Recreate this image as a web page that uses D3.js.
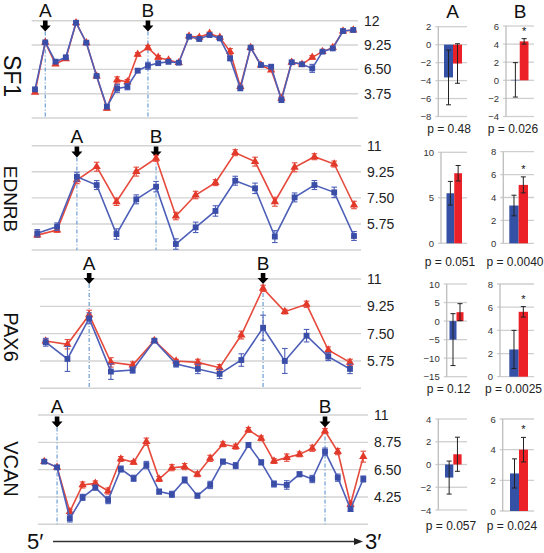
<!DOCTYPE html>
<html><head><meta charset="utf-8">
<script src="https://cdn.jsdelivr.net/npm/d3@7"></script>
<style>body{margin:0;background:#fff}svg text{font-family:"Liberation Sans",Arial,sans-serif}</style>
</head><body><svg id="c" width="544" height="553"></svg>
<script>
// ---------- DATA ----------
const sf1Blue=[4.24,9.55,7.37,7.86,11.77,9.51,5.75,2.28,4.35,4.54,6.35,6.9,7.2,7.35,7.25,10.19,9.93,10.38,10.0,7.74,4.35,8.95,6.99,6.8,3.03,7.3,7.07,6.61,8.5,8.87,10.83,10.95];
const sf1Red =[3.9,9.55,7.1,7.7,11.77,9.51,5.75,2.1,5.3,5.1,8.2,8.95,7.85,7.55,7.25,10.27,10.12,10.57,10.12,8.5,4.54,8.95,6.99,6.42,3.22,7.3,7.07,7.86,8.5,8.95,10.83,10.95];
const sf1BlueErr=[0.1,0.1,0.2,0.15,0.1,0.1,0.1,0.2,0.45,0.35,0.2,0.4,0.2,0.15,0.1,0.1,0.15,0.1,0.1,0.25,0.2,0.1,0.1,0.15,0.25,0.15,0.1,0.45,0.1,0.1,0.1,0.1];
const sf1RedErr =[0.1,0.1,0.15,0.15,0.1,0.1,0.1,0.2,0.35,0.25,0.2,0.25,0.2,0.15,0.1,0.1,0.15,0.15,0.1,0.35,0.2,0.1,0.1,0.15,0.2,0.1,0.1,0.2,0.1,0.1,0.1,0.1];
const sf1Ticks=[12,9.25,6.5,3.75];
const sf1Marks=[{label:"A",index:1},{label:"B",index:11}];

const ednrbBlue=[5.12,5.57,8.92,8.36,5.07,7.40,8.25,4.40,5.52,6.62,8.65,8.14,4.90,7.53,8.36,7.87,4.94];
const ednrbRed =[5.0,5.34,8.70,9.59,7.24,9.26,10.15,6.28,7.69,8.52,10.53,9.93,7.24,9.55,10.26,9.77,7.02];
const ednrbBlueErr=[0.25,0.25,0.3,0.3,0.35,0.3,0.35,0.35,0.35,0.35,0.3,0.35,0.4,0.3,0.3,0.35,0.3];
const ednrbRedErr =[0.15,0.15,0.25,0.3,0.25,0.3,0.2,0.25,0.25,0.2,0.2,0.3,0.3,0.3,0.2,0.2,0.25];
const ednrbTicks=[11,9.25,7.5,5.75];
const ednrbMarks=[{label:"A",index:2},{label:"B",index:6}];

const pax6Blue=[6.95,5.88,8.48,5.07,5.17,7.05,5.56,5.24,4.92,5.81,7.88,5.75,7.37,6.03,5.24];
const pax6Red =[7.03,6.82,8.70,5.66,5.49,7.05,5.75,5.66,5.32,7.41,10.40,8.91,9.38,6.45,5.66];
const pax6BlueErr=[0.25,0.8,0.35,0.5,0.2,0.1,0.2,0.3,0.3,0.4,0.8,0.8,0.4,0.25,0.3];
const pax6RedErr =[0.15,0.3,0.3,0.3,0.2,0.1,0.1,0.2,0.2,0.25,0.2,0.15,0.2,0.2,0.2];
const pax6Ticks=[11,9.25,7.5,5.75];
const pax6Marks=[{label:"A",index:2},{label:"B",index:10}];

const vcanBlue=[7.16,6.69,2.49,4.22,5.02,4.0,6.55,5.79,6.88,4.69,4.47,5.65,4.36,5.24,7.16,6.83,8.53,7.10,5.32,5.24,6.12,5.73,7.98,5.84,3.26,5.73];
const vcanRed =[7.16,6.69,3.04,5.24,5.37,4.74,7.38,7.10,8.80,5.73,6.66,6.75,6.12,7.43,8.59,8.39,9.77,9.08,7.21,7.49,7.76,8.26,9.68,7.98,3.65,7.57];
const vcanBlueErr=[0.15,0.15,0.3,0.25,0.2,0.3,0.25,0.25,0.3,0.2,0.25,0.25,0.2,0.3,0.2,0.25,0.2,0.2,0.25,0.35,0.2,0.3,0.3,0.3,0.2,0.25];
const vcanRedErr =[0.1,0.1,0.2,0.25,0.2,0.25,0.2,0.15,0.3,0.2,0.25,0.25,0.2,0.25,0.2,0.2,0.2,0.2,0.2,0.3,0.2,0.25,0.2,0.25,0.2,0.45];
const vcanTicks=[11,8.75,6.5,4.25];
const vcanMarks=[{label:"A",index:1},{label:"B",index:22}];

// bar charts: [blue, red] means, errors
const barLabels=["A","B"];
const barMeansA=[[-3.65,-2.1],[5.5,7.7],[-5,2.4],[-1.15,0.9]];
const barErrsA =[[3.05,2.2],[1.3,0.85],[7,2.3],[1.45,1.5]];
const barMeansB=[[0.05,4.3],[3.3,5.1],[2.35,5.6],[2.45,4.0]];
const barErrsB =[[1.9,0.3],[0.9,0.7],[1.65,0.45],[0.95,0.8]];
const barTicksA=[[2,0,-2,-4,-6,-8],[10,5,0],[10,5,0,-5,-10,-15],[4,2,0,-2,-4]];
const barTicksB=[[6,4,2,0,-2,-4],[8,6,4,2,0],[8,6,4,2,0],[6,4,2,0]];
const pValuesA=["0.48","0.051","0.12","0.057"];
const pValuesB=["0.026","0.0040","0.0025","0.024"];

// ---------- STYLE ----------
const C={blueLine:"#4d5fb8",blueMark:"#3a4ea8",redLine:"#e64a3c",redMark:"#e2392b",grid:"#d3d3d3",dash:"#6d9fd2",barBlue:"#3451a6",barRed:"#ec2127"};
const svg=d3.select("#c");

const lineLayouts=[
 {gene:"SF1",blue:sf1Blue,red:sf1Red,be:sf1BlueErr,re:sf1RedErr,ticks:sf1Ticks,marks:sf1Marks,
  L:{domain:[1,12],y0:118,y1:20.7,x0:35,x1:353.3,gx0:31.7,gx1:358,arrowTop:20.5,geneY:76,geneSize:23}},
 {gene:"EDNRB",blue:ednrbBlue,red:ednrbRed,be:ednrbBlueErr,re:ednrbRedErr,ticks:ednrbTicks,marks:ednrbMarks,
  L:{domain:[4,11],y0:250,y1:145.7,x0:37.3,x1:354,gx0:31.7,gx1:361,arrowTop:146.5,geneY:199,geneSize:19}},
 {gene:"PAX6",blue:pax6Blue,red:pax6Red,be:pax6BlueErr,re:pax6RedErr,ticks:pax6Ticks,marks:pax6Marks,
  L:{domain:[4,11],y0:388.3,y1:279,x0:45.7,x1:350,gx0:40,gx1:361,arrowTop:273,geneY:337,geneSize:20}},
 {gene:"VCAN",blue:vcanBlue,red:vcanRed,be:vcanBlueErr,re:vcanRedErr,ticks:vcanTicks,marks:vcanMarks,
  L:{domain:[2,11],y0:524.3,y1:415,x0:44.3,x1:363.3,gx0:38,gx1:368,arrowTop:416.5,geneY:469,geneSize:20}}
];

function fmt(d){return Number.isInteger(d)?String(d):d3.format(".2f")(d);}

function drawArrow(g,cx,top){
  const p=d3.path();
  p.moveTo(cx-2.3,top);p.lineTo(cx+2.3,top);p.lineTo(cx+2.3,top+5);p.lineTo(cx+5.5,top+5);
  p.lineTo(cx,top+11);p.lineTo(cx-5.5,top+5);p.lineTo(cx-2.3,top+5);p.closePath();
  g.append("path").attr("d",p.toString()).attr("fill","#000");
}

lineLayouts.forEach(cfg=>{
  const L=cfg.L;
  const g=svg.append("g");
  const x=d3.scalePoint().domain(d3.range(cfg.blue.length)).range([L.x0,L.x1]);
  const y=d3.scaleLinear().domain(L.domain).range([L.y0,L.y1]);
  const grid=[L.domain[0]].concat(cfg.ticks);
  g.selectAll("line.grid").data(grid).join("line").attr("class","grid")
    .attr("x1",L.gx0).attr("x2",L.gx1).attr("y1",d=>y(d)).attr("y2",d=>y(d))
    .attr("stroke",C.grid).attr("stroke-width",1.4);
  const ax=g.append("g").attr("transform",`translate(${L.gx1+1},0)`)
    .call(d3.axisRight(y).tickValues(cfg.ticks).tickFormat(fmt).tickSize(0).tickPadding(5));
  ax.select(".domain").remove();
  ax.selectAll("text").attr("font-size",14).attr("fill","#222").attr("font-family","Liberation Sans, Arial, sans-serif");
  // gene label
  g.append("text").attr("transform",`translate(4,${L.geneY}) rotate(90)`).attr("text-anchor","middle")
    .attr("font-size",L.geneSize).attr("fill","#111").text(cfg.gene);
  // marks
  cfg.marks.forEach(m=>{
    const cx=x(m.index);
    g.append("line").attr("x1",cx).attr("x2",cx).attr("y1",L.arrowTop+11).attr("y2",L.y0)
      .attr("stroke",C.dash).attr("stroke-width",1.2).attr("stroke-dasharray","4,2,1,2");
    drawArrow(g,cx,L.arrowTop);
    g.append("text").attr("x",cx).attr("y",L.arrowTop-3.5).attr("text-anchor","middle")
      .attr("font-size",19).attr("fill","#111").text(m.label);
  });
  const series=[
    {vals:cfg.red,err:cfg.re,line:C.redLine,mark:C.redMark,sym:d3.symbolTriangle,size:30},
    {vals:cfg.blue,err:cfg.be,line:C.blueLine,mark:C.blueMark,sym:d3.symbolSquare,size:34}
  ];
  series.forEach(s=>{
    g.append("path").datum(s.vals).attr("fill","none").attr("stroke",s.line).attr("stroke-width",1.6)
      .attr("d",d3.line().x((d,i)=>x(i)).y(d=>y(d)));
    const eb=g.append("g").attr("stroke",s.line).attr("stroke-width",1.1);
    s.vals.forEach((v,i)=>{
      const cx=x(i),t=y(v+s.err[i]),b=y(v-s.err[i]);
      eb.append("line").attr("x1",cx).attr("x2",cx).attr("y1",t).attr("y2",b);
      eb.append("line").attr("x1",cx-2.8).attr("x2",cx+2.8).attr("y1",t).attr("y2",t);
      eb.append("line").attr("x1",cx-2.8).attr("x2",cx+2.8).attr("y1",b).attr("y2",b);
    });
    g.selectAll(null).data(s.vals).join("path")
      .attr("transform",(d,i)=>`translate(${x(i)},${y(d)})`)
      .attr("d",d3.symbol(s.sym,s.size)).attr("fill",s.mark);
  });
});

// ---------- BAR CHARTS ----------
const barLayouts=[
 [{ax:438.3,dom:[-8,2],yb:116.5,yt:26.7,bx:[444,462],gx1:467,px:449,py:132.5},
  {ax:506,dom:[-4,6],yb:116.5,yt:26,bx:[511,528.5],gx1:534,px:513,py:132.5}],
 [{ax:441,dom:[0,10],yb:243.3,yt:152.3,bx:[446.5,462],gx1:467,px:450,py:266},
  {ax:503.3,dom:[0,8],yb:243.3,yt:151.7,bx:[509.3,528],gx1:534,px:515,py:266}],
 [{ax:446.7,dom:[-15,10],yb:376.7,yt:284,bx:[449.5,463.5],gx1:467,px:448.5,py:392.5},
  {ax:500,dom:[0,8],yb:376.7,yt:284,bx:[509.3,528],gx1:534,px:513.5,py:392.5}],
 [{ax:438.3,dom:[-4,4],yb:510,yt:419,bx:[445,461.6],gx1:467,px:451,py:529.5},
  {ax:502.7,dom:[0,6],yb:511,yt:419,bx:[510,528],gx1:534,px:512,py:529.5}]
];
const barSets=[{means:barMeansA,errs:barErrsA,ticks:barTicksA,p:pValuesA,star:false},
               {means:barMeansB,errs:barErrsB,ticks:barTicksB,p:pValuesB,star:true}];

barLayouts.forEach((row,r)=>{
  row.forEach((B,k)=>{
    const set=barSets[k];
    const g=svg.append("g");
    const y=d3.scaleLinear().domain(B.dom).range([B.yb,B.yt]);
    const xb=d3.scaleBand().domain(["blue","red"]).range(B.bx).padding(0);
    const ticks=set.ticks[r];
    g.selectAll("line.g").data(ticks).join("line").attr("x1",B.ax-3).attr("x2",B.gx1)
      .attr("y1",d=>y(d)).attr("y2",d=>y(d)).attr("stroke","#cfcfcf").attr("stroke-width",1.3);
    g.append("line").attr("x1",B.ax).attr("x2",B.ax).attr("y1",y(B.dom[0])).attr("y2",y(B.dom[1]))
      .attr("stroke","#bdbdbd").attr("stroke-width",1.3);
    const ax=g.append("g").attr("transform",`translate(${B.ax-3},0)`)
      .call(d3.axisLeft(y).tickValues(ticks).tickFormat(d3.format("d")).tickSize(0).tickPadding(4));
    ax.select(".domain").remove();
    ax.selectAll("text").attr("font-size",9.5).attr("fill","#333").attr("font-family","Liberation Sans, Arial, sans-serif");
    const means=set.means[r],errs=set.errs[r];
    const keys=["blue","red"],cols=[C.barBlue,C.barRed];
    keys.forEach((key,i)=>{
      const v=means[i];
      g.append("rect").attr("x",xb(key)).attr("width",xb.bandwidth())
        .attr("y",Math.min(y(v),y(0))).attr("height",Math.abs(y(v)-y(0))).attr("fill",cols[i]);
    });
    keys.forEach((key,i)=>{
      const v=means[i],e=errs[i],cx=xb(key)+xb.bandwidth()/2;
      const t=y(v+e),b=y(v-e);
      const eg=g.append("g").attr("stroke","#222").attr("stroke-width",1);
      eg.append("line").attr("x1",cx).attr("x2",cx).attr("y1",t).attr("y2",b);
      eg.append("line").attr("x1",cx-2.5).attr("x2",cx+2.5).attr("y1",t).attr("y2",t);
      eg.append("line").attr("x1",cx-2.5).attr("x2",cx+2.5).attr("y1",b).attr("y2",b);
    });
    if(set.star){
      const cx=xb("red")+xb.bandwidth()/2;
      g.append("text").attr("x",cx).attr("y",y(means[1]+errs[1])-4).attr("text-anchor","middle")
        .attr("font-size",11).attr("fill","#111").text("*");
    }
    g.append("text").attr("x",B.px).attr("y",B.py).attr("text-anchor","middle")
      .attr("font-size",12).attr("fill","#222").text("p = "+set.p[r]);
    if(r===0){
      g.append("text").attr("x",(B.ax+B.gx1)/2).attr("y",18).attr("text-anchor","middle")
        .attr("font-size",19).attr("fill","#111").text(barLabels[k]);
    }
  });
});

// ---------- 5' -> 3' ----------
const fg=svg.append("g");
fg.append("text").attr("x",27).attr("y",548.5).attr("font-size",22).attr("fill","#111").text("5\u2032");
fg.append("line").attr("x1",53).attr("x2",356).attr("y1",541.5).attr("y2",541.5).attr("stroke","#333").attr("stroke-width",1.3);
fg.append("path").attr("d","M354,538 L363,541.5 L354,545 Z").attr("fill","#222");
fg.append("text").attr("x",365).attr("y",548.5).attr("font-size",22).attr("fill","#111").text("3\u2032");
</script></body></html>
